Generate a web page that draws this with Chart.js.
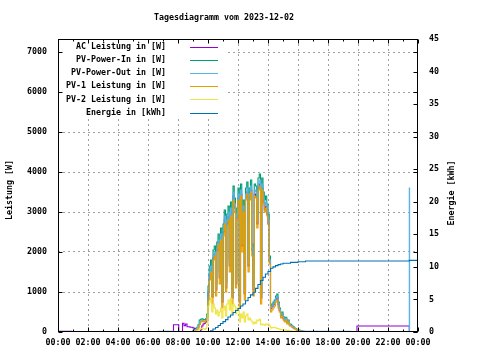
<!DOCTYPE html>
<html>
<head>
<meta charset="utf-8">
<script src="https://cdn.jsdelivr.net/npm/chart.js@4/dist/chart.umd.min.js"></script>
<style>
  html, body { margin: 0; padding: 0; background: #fff; }
  canvas { display: block; }
</style>
</head>
<body>
<canvas id="dayChart" width="480" height="360"></canvas>
<script>
// Tagesdiagramm 2023-12-02 (gnuplot look)
const titleText = "Tagesdiagramm vom 2023-12-02";
const seriesNames = ["AC Leistung in [W]", "PV-Power-In in [W]", "PV-Power-Out in [W]",
    "PV-1 Leistung in [W]", "PV-2 Leistung in [W]", "Energie in [kWh]"];
const seriesColors = ["#9400d3", "#009e73", "#56b4e9", "#e69f00", "#f0e442", "#0072b2"];
const powerTicks = [0, 1000, 2000, 3000, 4000, 5000, 6000, 7000];
const energyTicks = [0, 5, 10, 15, 20, 25, 30, 35, 40, 45];
const hourTicks = [0, 2, 4, 6, 8, 10, 12, 14, 16, 18, 20, 22, 24];

// day window: 5 minute samples from 09:00 to 16:25
const dayStart = 9;
const dayStepMin = 5;

const acDay = [
    100, 90, 60, 20, 0, 0, 50, 150, 200, 220, 250, 350,
    1000, 1450, 1600, 870, 1850, 1950, 1050, 2050, 2250, 1350, 2400, 750,
    2500, 2800, 1100, 2700, 2900, 1650, 3000, 850, 3400, 3100, 1200, 2850,
    3350, 750, 3450, 2150, 3050, 950, 3350, 3500, 1650, 3350, 3550, 2050,
    1050, 3450, 3400, 2700, 3600, 3700, 850, 3600, 3250, 3050, 3150, 2950,
    2700, 1750, 580, 630, 680, 740, 820, 870, 680, 540, 400, 450,
    340, 290, 330, 230, 270, 180, 160, 130, 110, 85, 65, 45,
    40, 35, 25, 20, 15, 10
];
const inDay = [
    40, 60, 80, 120, 180, 300, 320, 330, 310, 300, 330, 450,
    1150, 1650, 1800, 1000, 2050, 2150, 1200, 2250, 2450, 1500, 2600, 850,
    2700, 3050, 1250, 2950, 3150, 1800, 3250, 950, 3650, 3350, 1350, 3100,
    3600, 850, 3700, 2300, 3300, 1050, 3600, 3750, 1800, 3600, 3800, 2200,
    1150, 3700, 3650, 2900, 3850, 3950, 950, 3850, 3500, 3300, 3400, 3200,
    2950, 1900, 650, 700, 750, 800, 900, 950, 750, 600, 450, 500,
    380, 320, 370, 260, 300, 200, 190, 150, 130, 100, 80, 60,
    50, 40, 30, 20, 10, 0
];
const outDay = [
    20, 40, 60, 100, 150, 260, 280, 290, 270, 260, 290, 400,
    1050, 1500, 1650, 900, 1900, 2000, 1100, 2100, 2300, 1400, 2450, 780,
    2550, 2900, 1150, 2800, 3000, 1700, 3100, 880, 3500, 3200, 1250, 2950,
    3450, 780, 3550, 2200, 3150, 980, 3450, 3600, 1700, 3450, 3650, 2100,
    1080, 3550, 3500, 2780, 3700, 3800, 880, 3700, 3350, 3150, 3250, 3050,
    2800, 1800, 600, 650, 700, 760, 850, 900, 700, 560, 420, 470,
    350, 300, 340, 240, 280, 190, 170, 140, 120, 90, 70, 50,
    45, 40, 30, 25, 20, 15
];
const pv1Day = [
    20, 30, 40, 60, 100, 180, 250, 280, 260, 250, 280, 350,
    800, 1300, 1500, 700, 1800, 1900, 900, 2000, 2200, 1200, 2300, 600,
    2400, 2700, 1000, 2600, 2800, 1500, 2900, 700, 3300, 3000, 1100, 2800,
    3300, 600, 3400, 2000, 3000, 800, 3300, 3450, 1500, 3300, 3500, 1900,
    900, 3400, 3350, 2600, 3550, 3650, 700, 3550, 3200, 3000, 3100, 2900,
    2700, 1700, 500, 550, 600, 650, 750, 800, 600, 500, 350, 400,
    300, 250, 300, 200, 250, 150, 150, 120, 100, 80, 60, 50,
    40, 30, 20, 10, 5, 0
];
const pv2Day = [
    10, 15, 20, 30, 50, 70, 80, 90, 80, 70, 90, 200,
    650, 750, 850, 500, 700, 600, 450, 550, 400, 500, 600, 350,
    550, 650, 400, 700, 800, 550, 850, 450, 700, 650, 450, 600,
    550, 250, 450, 350, 500, 250, 400, 450, 300, 350, 300, 250,
    200, 250, 220, 300, 280, 320, 180, 200, 180, 170, 200, 180,
    200, 150, 100, 110, 120, 110, 100, 90, 80, 70, 60, 60,
    50, 45, 50, 40, 40, 30, 30, 25, 20, 20, 15, 10,
    10, 5, 5, 0, 0, 0
];

// outside the day window: [hour, W]
const acEarly = [[0, 15], [0.9, 0], [7.7, 180], [8.05, 0], [8.3, 220], [8.4, 160], [8.5, 200], [8.6, 130], [8.8, 120]];
const acLate = [[16.5, 0], [19.93, 150], [23.42, 0], [24, 0]];
const inEarly = [[0, 0], [8.9, 0]];
const inLate = [[16.5, 0], [24, 0]];
const outEarly = [[0, 0], [6.7, 20], [7.7, 0]];
const outLate = [[16.5, 20], [17.5, 15], [18.5, 20], [19.5, 10], [19.95, 0], [23.42, 3600], [23.44, 10], [24, 10]];
const pvEarly = [[0, 0]];
const pvLate = [[16.5, 0], [24, 0]];

// Energie [kWh] : [hour, kWh]
const energy = [
    [0, 0], [10, 0], [10.17, 0.2], [10.33, 0.45], [10.5, 0.7], [10.67, 1.0], [10.83, 1.3],
    [11, 1.6], [11.17, 1.9], [11.33, 2.3], [11.5, 2.6], [11.67, 3.0], [11.83, 3.3],
    [12, 3.6], [12.17, 4.0], [12.33, 4.3], [12.5, 4.8], [12.67, 5.3], [12.83, 5.7],
    [13, 6.1], [13.17, 6.7], [13.33, 7.3], [13.5, 7.9], [13.67, 8.4], [13.83, 8.9],
    [14, 9.3], [14.17, 9.8], [14.33, 10.0], [14.5, 10.2], [14.67, 10.35], [14.83, 10.45],
    [15, 10.55], [15.5, 10.7], [16, 10.8], [16.5, 10.9], [23.42, 11.0], [24, 11.0]
];

const powerMax = 7325;
const energyMax = 45;

function toPoints(early, day, late) {
    var pts = early.map(p => ({ x: p[0], y: p[1] }));
    day.forEach((v, i) => pts.push({ x: dayStart + i * dayStepMin / 60, y: v }));
    late.forEach(p => pts.push({ x: p[0], y: p[1] }));
    return pts;
}

const FONT = "'DejaVu Sans Mono', monospace";
const FS = 8.3;
Chart.defaults.color = "#000";
Chart.defaults.font.family = FONT;
Chart.defaults.font.size = FS;
Chart.defaults.font.weight = 'bold';

function makeSet(i, data, axis) {
    return {
        label: seriesNames[i],
        data: data,
        borderColor: seriesColors[i],
        backgroundColor: seriesColors[i],
        borderWidth: 1.1,
        pointRadius: 0,
        fill: false,
        stepped: 'before',
        yAxisID: axis,
        order: 6 - i
    };
}

function edgeGrid(lo, hi) {
    return c => (c.tick && (c.tick.value === lo || c.tick.value === hi)) ? 'rgba(0,0,0,0)' : '#a0a0a0';
}

function fixedTicks(values) {
    return s => { s.ticks = values.map(v => ({ value: v })); };
}

const gnuplotFrame = {
    id: 'gnuplotFrame',
    beforeDatasetsDraw(chart) {
        // opaque key box
        const ctx = chart.ctx, a = chart.chartArea;
        ctx.save();
        ctx.fillStyle = '#fff';
        ctx.fillRect(a.left, a.top, 225 - a.left, 118 - a.top);
        ctx.restore();
    },
    afterDatasetsDraw(chart) {
        const ctx = chart.ctx, a = chart.chartArea;
        const sx = chart.scales.x, sy = chart.scales.y, sy2 = chart.scales.y2;
        const L = Math.round(a.left) + 0.5, R = Math.round(a.right) - 0.5;
        const T = Math.round(a.top) + 0.5, B = Math.round(a.bottom) - 0.5;
        ctx.save();
        ctx.strokeStyle = '#000';
        ctx.lineWidth = 1;
        ctx.beginPath();
        // x ticks, bottom and top
        for (let h = 0; h <= 24; h++) {
            const px = Math.round(sx.getPixelForValue(h)) + 0.5;
            const len = h % 2 === 0 ? 4 : 2;
            ctx.moveTo(px, B); ctx.lineTo(px, B - len);
            ctx.moveTo(px, T); ctx.lineTo(px, T + len);
        }
        // y ticks, left and mirrored right
        powerTicks.forEach(w => {
            const py = Math.round(sy.getPixelForValue(w)) + 0.5;
            ctx.moveTo(L, py); ctx.lineTo(L + 4, py);
            ctx.moveTo(R, py); ctx.lineTo(R - 4, py);
        });
        // y2 ticks on right
        energyTicks.forEach(e => {
            const py = Math.round(sy2.getPixelForValue(e)) + 0.5;
            ctx.moveTo(R, py); ctx.lineTo(R - 4, py);
        });
        ctx.stroke();
        ctx.strokeRect(L, T, R - L, B - T);

        // key
        ctx.font = 'bold ' + FS + 'px ' + FONT;
        ctx.fillStyle = '#000';
        ctx.textAlign = 'right';
        ctx.textBaseline = 'middle';
        seriesNames.forEach((name, i) => {
            const y = 47 + i * 13.1;
            ctx.fillText(name, 166, y);
            ctx.strokeStyle = seriesColors[i];
            ctx.beginPath();
            ctx.moveTo(190, Math.round(y) + 0.5);
            ctx.lineTo(218, Math.round(y) + 0.5);
            ctx.stroke();
        });

        // title and axis titles
        ctx.textAlign = 'center';
        ctx.fillText(titleText, 224, 18);
        ctx.save();
        ctx.translate(10, 190);
        ctx.rotate(-Math.PI / 2);
        ctx.fillText("Leistung [W]", 0, 0);
        ctx.restore();
        ctx.save();
        ctx.translate(452, 193);
        ctx.rotate(-Math.PI / 2);
        ctx.fillText("Energie [kWh]", 0, 0);
        ctx.restore();
        ctx.restore();
    }
};

new Chart(document.getElementById('dayChart'), {
    type: 'line',
    data: {
        datasets: [
            makeSet(0, toPoints(acEarly, acDay, acLate), 'y'),
            makeSet(1, toPoints(inEarly, inDay, inLate), 'y'),
            makeSet(2, toPoints(outEarly, outDay, outLate), 'y'),
            makeSet(3, toPoints(pvEarly, pv1Day, pvLate), 'y'),
            makeSet(4, toPoints(pvEarly, pv2Day, pvLate), 'y'),
            makeSet(5, energy.map(p => ({ x: p[0], y: p[1] })), 'y2')
        ]
    },
    options: {
        responsive: false,
        animation: false,
        devicePixelRatio: 1,
        layout: { padding: { top: 39, left: 0, right: 0, bottom: 0 } },
        plugins: {
            legend: { display: false },
            tooltip: { enabled: false }
        },
        scales: {
            x: {
                type: 'linear',
                min: 0,
                max: 24,
                afterFit: s => { s.height = 28; },
                afterBuildTicks: fixedTicks(hourTicks),
                border: { display: false, dash: [2, 3] },
                grid: { drawTicks: false, color: edgeGrid(0, 24) },
                ticks: {
                    autoSkip: false,
                    maxRotation: 0,
                    padding: 6,
                    callback: v => String(v % 24).padStart(2, '0') + ':00'
                }
            },
            y: {
                position: 'left',
                min: 0,
                max: powerMax,
                afterFit: s => { s.width = 58; },
                afterBuildTicks: fixedTicks(powerTicks),
                border: { display: false, dash: [2, 3] },
                grid: { drawTicks: false, color: edgeGrid(0, powerMax) },
                ticks: { autoSkip: false, padding: 11, callback: v => String(v) }
            },
            y2: {
                position: 'right',
                min: 0,
                max: energyMax,
                afterFit: s => { s.width = 62; },
                afterBuildTicks: fixedTicks(energyTicks),
                border: { display: false },
                grid: { display: false, drawTicks: false },
                ticks: { autoSkip: false, padding: 11, callback: v => String(v) }
            }
        }
    },
    plugins: [gnuplotFrame]
});
</script>
</body>
</html>
